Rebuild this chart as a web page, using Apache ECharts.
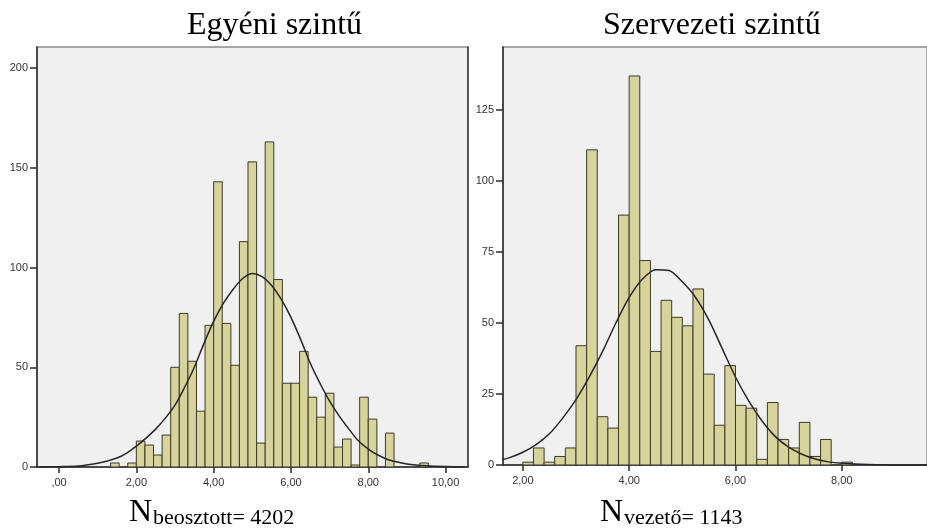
<!DOCTYPE html>
<html>
<head>
<meta charset="utf-8">
<script src="https://cdn.jsdelivr.net/npm/echarts@6/dist/echarts.min.js"></script>
<style>
  html, body { margin: 0; padding: 0; background: #ffffff; }
  #chart { width: 927px; height: 528px; }
</style>
</head>
<body>
<div id="chart"></div>
<script>
// Egyéni szintű: bins of width 2/9 starting at 4/3
const leftBinStart = 4 / 3;
const leftBinWidth = 2 / 9;
const leftCounts = [2, 0, 2, 13, 11, 6, 16, 50, 77, 53, 28, 71, 143, 72, 51, 113, 153, 12,
  163, 94, 42, 42, 58, 35, 25, 37, 10, 14, 1, 35, 24, 0, 17, 0, 0, 0, 2];
const leftCurveX = [-0.5, 0, 0.5, 1, 1.25, 1.5, 1.75, 2, 2.25, 2.5, 2.75, 3, 3.25, 3.5, 3.75, 4,
  4.25, 4.5, 4.75, 5, 5.25, 5.5, 5.75, 6, 6.25, 6.5, 6.75, 7, 7.25, 7.5, 7.75, 8, 8.25, 8.5,
  8.75, 9, 9.5, 10, 10.5];
const leftCurveY = [0, 0.15, 0.5, 1.9, 3, 4.5, 7, 10.5, 14.5, 19, 24.5, 31, 40, 50, 62, 73,
  82, 89, 94.5, 97, 95.5, 91, 84, 75, 64, 52, 42, 33, 25.5, 19, 13, 9, 6, 3.8,
  2.5, 1.5, 0.6, 0.2, 0.05];
const leftXTicks = [0, 2, 4, 6, 8, 10];
const leftYTicks = [0, 50, 100, 150, 200];

// Szervezeti szintű: bins of width 0.2 starting at 2
const rightBinStart = 2;
const rightBinWidth = 0.2;
const rightCounts = [1, 6, 1, 3, 6, 42, 111, 17, 13, 88, 137, 72, 40, 58, 52, 49, 62, 32, 14,
  35, 21, 20, 2, 22, 9, 6, 15, 3, 9, 0, 1];
const rightCurveX = [1.5, 1.75, 2, 2.25, 2.5, 2.75, 3, 3.25, 3.5, 3.75, 4, 4.25, 4.5, 4.75, 5,
  5.25, 5.5, 5.75, 6, 6.25, 6.5, 6.75, 7, 7.25, 7.5, 7.75, 8, 8.5, 9, 9.5, 10];
const rightCurveY = [1.3, 2.6, 4.5, 7.2, 11, 16.5, 23, 31, 40, 50, 59, 65.5, 68.8, 68.5, 64.5,
  59, 51, 41, 31, 22.5, 15.5, 10, 6.3, 3.8, 2.1, 1.1, 0.6, 0.15, 0.03, 0, 0];
const rightXTicks = [2, 4, 6, 8];
const rightYTicks = [0, 25, 50, 75, 100, 125];

const titles = ['Egyéni szintű', 'Szervezeti szintű'];
const nLabels = ['beosztott= 4202', 'vezető= 1143'];

function binData(start, width, counts) {
  const out = [];
  counts.forEach(function (c, i) {
    if (c > 0) out.push([start + i * width, start + (i + 1) * width, c]);
  });
  return out;
}

function histItem(params, api) {
  const p0 = api.coord([api.value(0), api.value(2)]);
  const p1 = api.coord([api.value(1), 0]);
  return {
    type: 'rect',
    shape: { x: p0[0], y: p0[1], width: p1[0] - p0[0], height: p1[1] - p0[1] },
    style: { fill: '#d6d39b', stroke: '#3b3a2c', lineWidth: 1 }
  };
}

function fmtX(v) {
  return v === 0 ? ',00' : v.toFixed(2).replace('.', ',');
}

const axisFont = { fontFamily: 'Liberation Sans', fontSize: 11, color: '#333333' };

function xAxis(gridIndex, min, max, ticks) {
  return {
    type: 'value', gridIndex: gridIndex, min: min, max: max,
    axisLine: { show: true, onZero: false, lineStyle: { color: '#2b2b2b', width: 1.5 } },
    axisTick: { show: true, length: 6, customValues: ticks, lineStyle: { color: '#2b2b2b', width: 1.5 } },
    axisLabel: Object.assign({ customValues: ticks, margin: 10, formatter: fmtX }, axisFont),
    splitLine: { show: false }
  };
}

function yAxis(gridIndex, max, ticks) {
  return {
    type: 'value', gridIndex: gridIndex, min: 0, max: max,
    axisLine: { show: true, onZero: false, lineStyle: { color: '#2b2b2b', width: 1.5 } },
    axisTick: { show: true, length: 7, customValues: ticks, lineStyle: { color: '#2b2b2b', width: 1.5 } },
    axisLabel: Object.assign({ customValues: ticks, margin: 9 }, axisFont),
    splitLine: { show: false }
  };
}

function curve(xs, ys) {
  return xs.map(function (x, i) { return [x, ys[i]]; });
}

const chart = echarts.init(document.getElementById('chart'), null, { renderer: 'canvas' });

chart.setOption({
  animation: false,
  backgroundColor: '#ffffff',
  grid: [
    { left: 37, top: 47, width: 431, height: 420, show: true, backgroundColor: '#f0f0f0', borderColor: '#8a8a8a', borderWidth: 1.5 },
    { left: 503, top: 47, width: 443, height: 418, show: true, backgroundColor: '#f0f0f0', borderColor: '#8a8a8a', borderWidth: 1.5 }
  ],
  xAxis: [
    xAxis(0, -0.57, 10.58, leftXTicks),
    xAxis(1, 1.627, 9.602, rightXTicks)
  ],
  yAxis: [
    yAxis(0, 210.6, leftYTicks),
    yAxis(1, 147.2, rightYTicks),
    // right frame edge of the first panel
    {
      type: 'value', gridIndex: 0, position: 'right', min: 0, max: 210.6,
      axisLine: { show: true, onZero: false, lineStyle: { color: '#3a3a3a', width: 1.5 } },
      axisTick: { show: false }, axisLabel: { show: false }, splitLine: { show: false }
    }
  ],
  series: [
    {
      type: 'custom', xAxisIndex: 0, yAxisIndex: 0,
      renderItem: histItem,
      encode: { x: [0, 1], y: 2 },
      data: binData(leftBinStart, leftBinWidth, leftCounts)
    },
    {
      type: 'line', xAxisIndex: 0, yAxisIndex: 0,
      data: curve(leftCurveX, leftCurveY),
      smooth: 0.3, symbol: 'none', silent: true,
      lineStyle: { color: '#262626', width: 1.5 }
    },
    {
      type: 'custom', xAxisIndex: 1, yAxisIndex: 1,
      renderItem: histItem,
      encode: { x: [0, 1], y: 2 },
      data: binData(rightBinStart, rightBinWidth, rightCounts)
    },
    {
      type: 'line', xAxisIndex: 1, yAxisIndex: 1,
      data: curve(rightCurveX, rightCurveY),
      smooth: 0.3, symbol: 'none', silent: true, clip: true,
      lineStyle: { color: '#262626', width: 1.5 }
    }
  ],
  graphic: [
    { type: 'text', x: 187, y: 26, style: { text: titles[0], font: '32px "Liberation Serif"', fill: '#000', textVerticalAlign: 'middle' } },
    { type: 'text', x: 603, y: 26, style: { text: titles[1], font: '32px "Liberation Serif"', fill: '#000', textVerticalAlign: 'middle' } },
    { type: 'text', x: 129, y: 513, style: { text: 'N', font: '32px "Liberation Serif"', fill: '#000', textVerticalAlign: 'middle' } },
    { type: 'text', x: 153, y: 518, style: { text: nLabels[0], font: '22px "Liberation Serif"', fill: '#000', textVerticalAlign: 'middle' } },
    { type: 'text', x: 600, y: 513, style: { text: 'N', font: '32px "Liberation Serif"', fill: '#000', textVerticalAlign: 'middle' } },
    { type: 'text', x: 624, y: 518, style: { text: nLabels[1], font: '22px "Liberation Serif"', fill: '#000', textVerticalAlign: 'middle' } }
  ]
});
</script>
</body>
</html>
